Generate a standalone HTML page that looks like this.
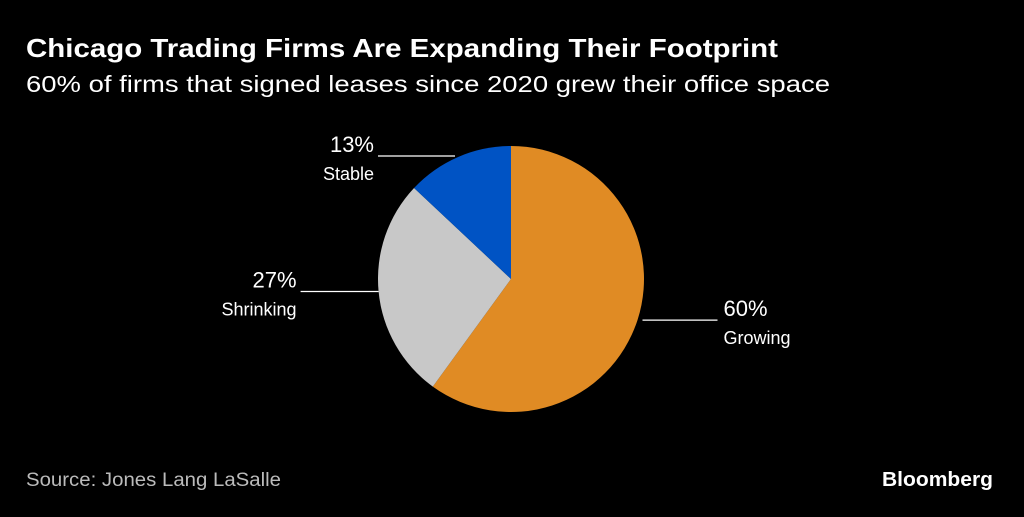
<!DOCTYPE html>
<html><head><meta charset="utf-8"><style>
body{margin:0;background:#000;width:1024px;height:512px;overflow:hidden;font-family:"Liberation Sans",sans-serif;color:#fff}
</style></head><body>
<svg width="1024" height="512">
<rect width="1024" height="512" fill="#000"/>
<text x="26" y="57" font-size="26" font-weight="bold" fill="#fff" textLength="752" lengthAdjust="spacingAndGlyphs">Chicago Trading Firms Are Expanding Their Footprint</text>
<text x="26" y="92" font-size="23" fill="#fff" textLength="804" lengthAdjust="spacingAndGlyphs">60% of firms that signed leases since 2020 grew their office space</text>
<g id="pie"></g>
<g id="labels"></g>
<text x="26" y="486" font-size="19" fill="#bbb" textLength="255" lengthAdjust="spacingAndGlyphs">Source: Jones Lang LaSalle</text>
<text x="993" y="486" font-size="20" font-weight="bold" fill="#fff" text-anchor="end" textLength="111" lengthAdjust="spacingAndGlyphs">Bloomberg</text>
</svg>
<script>
const categories=["Growing","Shrinking","Stable"];
const values=[60,27,13];
const colors=["#e08b24","#c8c8c8","#0053c4"];
const cx=511,cy=279,r=133;
const ns="http://www.w3.org/2000/svg";
const pie=document.getElementById('pie'),lab=document.getElementById('labels');
const total=values.reduce((a,b)=>a+b,0);
let a0=0;
function pt(a,rr){return [cx+rr*Math.sin(a),cy-rr*Math.cos(a)];}
values.forEach((v,i)=>{
  const a1=a0+v/total*2*Math.PI;
  const p0=pt(a0,r),p1=pt(a1,r);
  const path=document.createElementNS(ns,'path');
  path.setAttribute('d',`M${cx},${cy}L${p0[0]},${p0[1]}A${r},${r} 0 ${(a1-a0)>Math.PI?1:0} 1 ${p1[0]},${p1[1]}Z`);
  path.setAttribute('fill',colors[i]);
  
  
  pie.appendChild(path);
  const mid=(a0+a1)/2;
  const m=pt(mid,r);
  const right=Math.sin(mid)>0;
  let ly=m[1], lx0, lx1;
  if(right){lx0=m[0]+5;lx1=lx0+75;}else{lx1=m[0];lx0=lx1-78;}
  if(i===2){ly=156;lx1=cx-56;lx0=lx1-77;}
  const ln=document.createElementNS(ns,'line');
  ln.setAttribute('x1',lx0);ln.setAttribute('x2',lx1);ln.setAttribute('y1',ly);ln.setAttribute('y2',ly);
  ln.setAttribute('stroke','#fff');ln.setAttribute('stroke-width','1.2');
  
  
  lab.appendChild(ln);
  const tx=right?lx1+6:lx0-4, anchor=right?'start':'end';
  const t1=document.createElementNS(ns,'text');
  t1.setAttribute('x',tx);t1.setAttribute('y',ly-4);t1.setAttribute('font-size','22');t1.setAttribute('fill','#fff');t1.setAttribute('text-anchor',anchor);
  t1.textContent=v+'%';
  
  
  lab.appendChild(t1);
  const t2=document.createElementNS(ns,'text');
  t2.setAttribute('x',tx);t2.setAttribute('y',ly+24);t2.setAttribute('font-size','18');t2.setAttribute('fill','#fff');t2.setAttribute('text-anchor',anchor);
  t2.textContent=categories[i];
  
  
  lab.appendChild(t2);
  a0=a1;
});
</script>
</body></html>
